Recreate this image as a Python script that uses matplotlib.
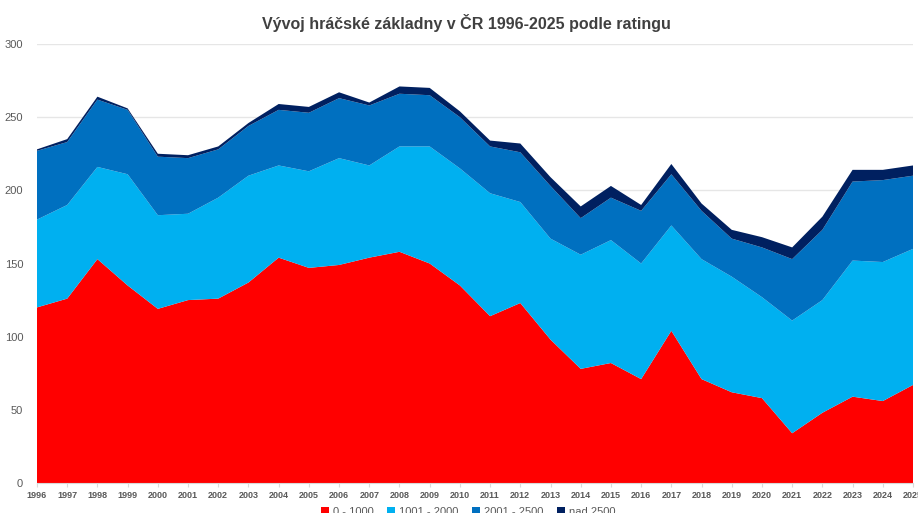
import matplotlib

matplotlib.use("Agg")

import matplotlib.pyplot as plt
import numpy as np

years = list(range(1996, 2026))
labels = ["0 - 1000", "1001 - 2000", "2001 - 2500", "nad 2500"]
colors = ["#FF0000", "#00B0F0", "#0070C0", "#002060"]

r_0_1000 = [120, 126, 153, 135, 119, 125, 126, 137, 154, 147, 149, 154, 158, 150, 135,
            114, 123, 98, 78, 82, 71, 104, 71, 62, 58, 34, 48, 59, 56, 67]
r_1001_2000 = [60, 64, 63, 76, 64, 59, 69, 73, 63, 66, 73, 63, 72, 80, 80,
               84, 69, 69, 78, 84, 79, 72, 82, 79, 69, 77, 77, 93, 95, 93]
r_2001_2500 = [47, 43, 46, 44, 40, 38, 33, 34, 38, 40, 41, 41, 36, 35, 35,
               32, 34, 36, 25, 29, 36, 35, 33, 26, 34, 42, 48, 54, 56, 50]
r_nad_2500 = [1, 2, 2, 1, 2, 2, 2, 2, 4, 4, 4, 2, 5, 5, 4,
              4, 6, 6, 8, 8, 4, 7, 5, 6, 7, 8, 9, 8, 7, 7]

plt.rcParams["font.family"] = ["Liberation Sans", "DejaVu Sans"]

fig = plt.figure(figsize=(9.18, 5.13), dpi=100)
ax = fig.add_axes([37 / 918, 30 / 513, 876 / 918, 439 / 513])

ax.stackplot(years, r_0_1000, r_1001_2000, r_2001_2500, r_nad_2500,
             colors=colors, labels=labels, linewidth=0)

ax.set_xlim(1996, 2025)
ax.set_ylim(0, 300)
ax.set_yticks(np.arange(0, 301, 50))
ax.set_xticks(years)
ax.set_xticklabels([str(y) for y in years], fontsize=6.5, color="#595959", fontweight="bold")
ax.tick_params(axis="y", length=0, labelsize=8, labelcolor="#595959", pad=10)
ax.tick_params(axis="x", length=3, color="#d9d9d9", pad=3)
ax.grid(axis="y", color="#e6e6e6", linewidth=1)
ax.set_axisbelow(True)
for side in ["top", "right", "left"]:
    ax.spines[side].set_visible(False)
ax.spines["bottom"].set_color("#d9d9d9")

fig.suptitle("Vývoj hráčské základny v ČR 1996-2025 podle ratingu", x=0.508, y=0.972,
             fontsize=11.5, color="#404040", fontweight="bold")

fig.legend(loc="center", bbox_to_anchor=(0.51, 1 / 513), ncol=4, frameon=False,
           fontsize=8, handlelength=0.7, handleheight=0.7, columnspacing=1.2,
           handletextpad=0.4, labelcolor="#595959")

fig.savefig("out.png", dpi=100)
